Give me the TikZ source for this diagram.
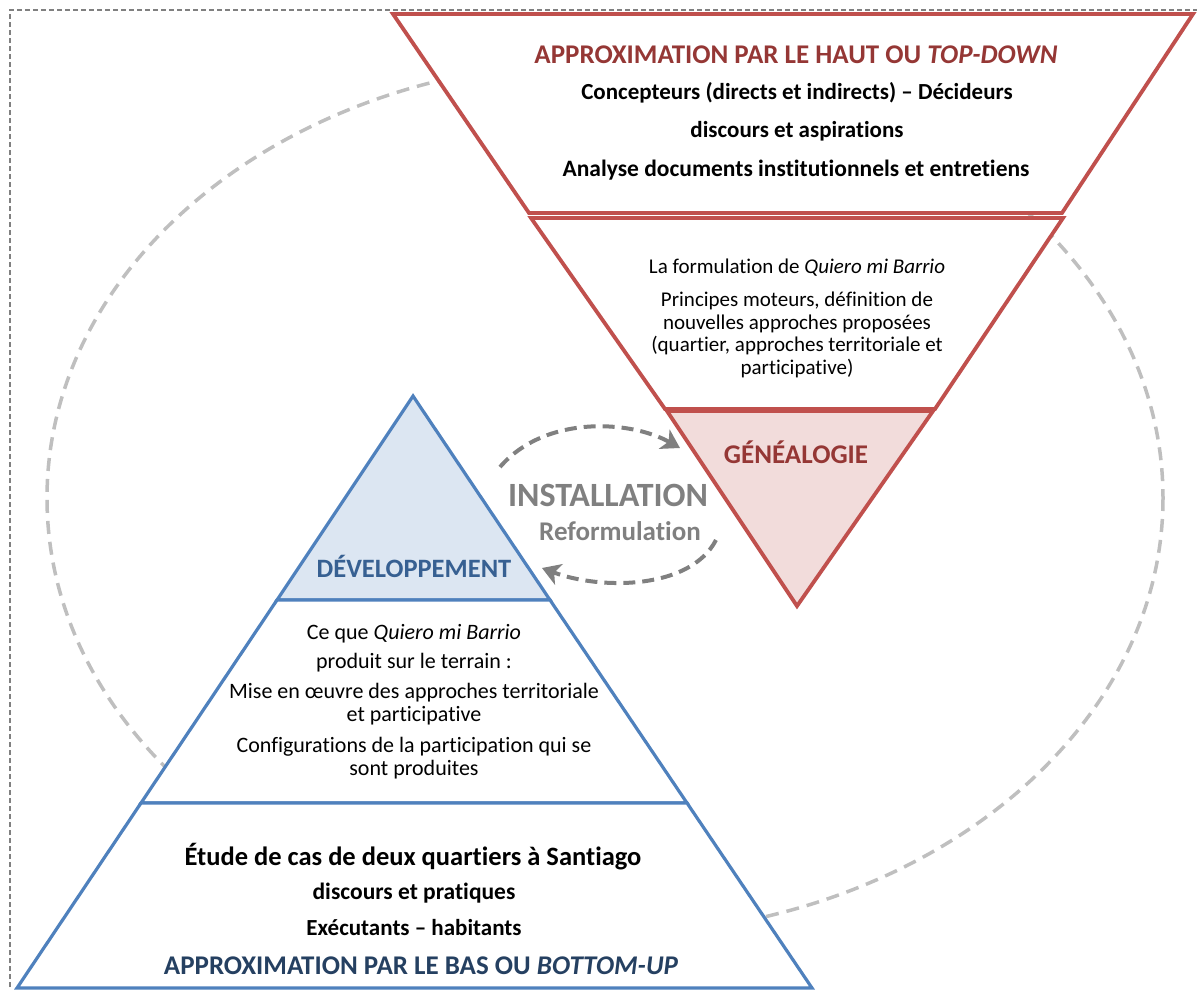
\documentclass[tikz,border=0pt]{standalone}
\usepackage{fontspec}
\setmainfont{Carlito}[Ligatures={NoCommon,TeX}]
\usetikzlibrary{arrows.meta}
\definecolor{redline}{HTML}{C0504D}
\definecolor{redtext}{HTML}{953735}
\definecolor{pinkfill}{HTML}{F2DCDB}
\definecolor{blueline}{HTML}{4F81BD}
\definecolor{bluefill}{HTML}{DCE6F2}
\definecolor{bluetext}{HTML}{376092}
\definecolor{navytext}{HTML}{254061}
\definecolor{ellgray}{HTML}{BFBFBF}
\definecolor{arrgray}{HTML}{808080}
\begin{document}
\begin{tikzpicture}[x=1pt,y=-1pt,
  redshape/.style={draw=redline, line width=3.8pt, fill=white, line join=miter},
  blueshape/.style={draw=blueline, line width=3.2pt, fill=white, line join=miter},
  txt/.style={inner sep=0pt, align=center, anchor=center},
  loop/.style={draw=arrgray, line width=4pt, dash pattern=on 12pt off 7pt, -{Stealth[length=18pt,width=22pt,inset=5pt]}},
]
\useasboundingbox (0,0) rectangle (1197,990);
% outer dashed frame
\draw[draw=arrgray, line width=1.4pt, dash pattern=on 5pt off 3pt] (10,995) -- (10,10) -- (1205,10);
% ellipse
\draw[draw=ellgray, line width=3.5pt, dash pattern=on 13pt off 8pt] (605,498) ellipse [x radius=558, y radius=437];
% red inverted pyramid
\draw[redshape] (393,14) -- (1193,14) -- (1062,213) -- (529,213) -- cycle;
\draw[redshape] (531,218) -- (1063,218) -- (935,409) -- (665,409) -- cycle;
\draw[redshape, fill=pinkfill] (667,411) -- (933,411) -- (797,606) -- cycle;
% blue pyramid
\draw[blueshape, fill=bluefill] (413,396) -- (550,600) -- (277,600) -- cycle;
\draw[blueshape] (277,600) -- (550,600) -- (687,803) -- (141,803) -- cycle;
\draw[blueshape] (141,803) -- (687,803) -- (812,988) -- (17,988) -- cycle;
% texts
\node[txt, font=\fontsize{27}{31}\selectfont\bfseries, text=redtext] (h1) at (796,55) {APPROXIMATION PAR LE HAUT OU \textit{TOP-DOWN}};
\node[txt, font=\fontsize{23}{27}\selectfont\bfseries] (h2) at (797,93) {Concepteurs (directs et indirects) – Décideurs};
\node[txt, font=\fontsize{23}{27}\selectfont\bfseries] (h3) at (797,131) {discours et aspirations};
\node[txt, font=\fontsize{23.5}{27}\selectfont\bfseries] (h4) at (796,170) {Analyse documents institutionnels et entretiens};
\node[txt, font=\fontsize{21}{22.7}\selectfont] (m1) at (797,268) {La formulation de \textit{Quiero mi Barrio}};
\node[txt, font=\fontsize{21}{22.7}\selectfont] (m2) at (797,335) {Principes moteurs, définition de\\nouvelles approches proposées\\(quartier, approches territoriale et\\participative)};
\node[txt, font=\fontsize{27}{31}\selectfont\bfseries, text=redtext] (gen) at (796,452) {GÉNÉALOGIE};
\node[txt, font=\fontsize{34}{40}\selectfont\bfseries, text=arrgray] (inst) at (608,495) {INSTALLATION};
\node[txt, font=\fontsize{27}{31}\selectfont\bfseries, text=arrgray] (ref) at (620,531) {Reformulation};
\node[txt, font=\fontsize{26.5}{31}\selectfont\bfseries, text=bluetext] (dev) at (414,566) {DÉVELOPPEMENT};
\node[txt, font=\fontsize{22}{23}\selectfont] (b1) at (414,634) {Ce que \textit{Quiero mi Barrio}};
\node[txt, font=\fontsize{22}{23}\selectfont] (b2) at (414,663) {produit sur le terrain :};
\node[txt, font=\fontsize{22}{23}\selectfont] (b3) at (414,704.5) {Mise en œuvre des approches territoriale\\et participative};
\node[txt, font=\fontsize{22}{23}\selectfont] (b4) at (414,758.5) {Configurations de la participation qui se\\sont produites};
\node[txt, font=\fontsize{26.5}{30}\selectfont\bfseries] (c1) at (413,857) {Étude de cas de deux quartiers à Santiago};
\node[txt, font=\fontsize{23.5}{27}\selectfont\bfseries] (c2) at (414,893) {discours et pratiques};
\node[txt, font=\fontsize{23}{27}\selectfont\bfseries] (c3) at (414,928) {Exécutants – habitants};
\node[txt, font=\fontsize{27}{31}\selectfont\bfseries, text=navytext] (c4) at (421,966) {APPROXIMATION PAR LE BAS OU \textit{BOTTOM-UP}};
% looping arrows
\coordinate (a1s) at (500,467);
\coordinate (a1e) at (680,448);
\coordinate (a2s) at (716,540);
\coordinate (a2e) at (542,568);
\draw[loop] (a1s) .. controls (545,415) and (630,420) .. (a1e);
\draw[loop] (a2s) .. controls (690,590) and (600,590) .. (a2e);
\end{tikzpicture}
\end{document}
